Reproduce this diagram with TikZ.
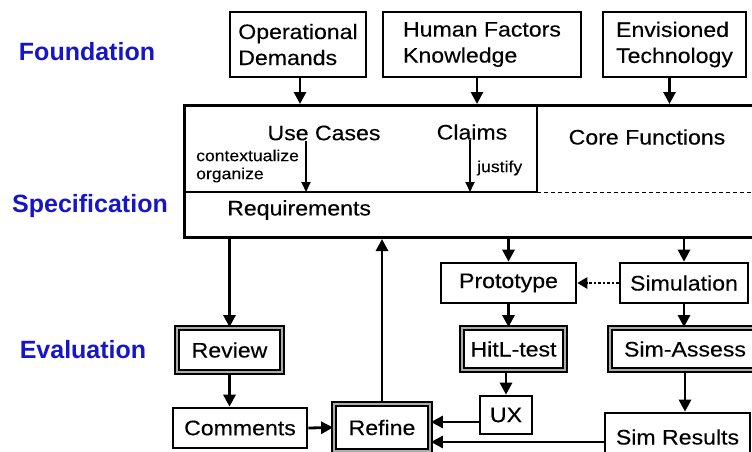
\documentclass[tikz,border=0pt]{standalone}
\usepackage{fontspec}
\setmainfont{Liberation Sans}[FakeStretch=1.1, FakeBold=0.25]
\newfontfamily\phasefont{Liberation Sans Bold}
\usetikzlibrary{arrows.meta,calc}
\definecolor{phaseblue}{HTML}{1616C8}
\begin{document}
\begin{tikzpicture}[x=1pt,y=-1pt,
  box/.style={draw, line width=2.6pt, inner sep=0pt, align=left,
    font=\fontsize{21}{26}\selectfont},
  dblbox/.style={box, line width=1.8pt, double=gray!65, double distance=1.8pt},
  txt/.style={inner sep=0pt, font=\fontsize{21}{26}\selectfont},
  small/.style={inner sep=0pt, align=left, font=\fontsize{16}{18}\selectfont},
  phase/.style={inner sep=0pt, text=phaseblue, font=\phasefont\fontsize{25}{29}\selectfont},
  arr/.style={line width=2.8pt, -{Triangle[length=12pt,width=12pt]}},
  arrsm/.style={line width=2pt, -{Triangle[length=10pt,width=9pt]}}]
\useasboundingbox (0,0) rectangle (752,452);
\clip (0,0) rectangle (752,452);

% phase labels
\node[phase] (foundation) at (87,52) {Foundation};
\node[phase] (specification) at (90,206) {Specification};
\node[phase] (evaluation) at (83,350) {Evaluation};

% foundation inputs
\node[box, minimum width=136pt, minimum height=65pt] (opdem) at (298,44.5) {Operational\\Demands};
\node[box, minimum width=198pt, minimum height=65pt] (hfk) at (482,44.5) {Human Factors\\Knowledge};
\node[box, minimum width=143pt, minimum height=65pt] (envt) at (674.5,44.5) {Envisioned\\Technology};

% specification block
\node[draw, line width=3pt, inner sep=0pt, minimum width=580pt, minimum height=132pt,
  anchor=north west] (spec) at (183,104) {};
\coordinate (reqL) at (183,192);
\coordinate (reqM) at (537,192);
\coordinate (reqR) at (765,192);
\coordinate (divtop) at (537,104);
\draw[line width=2.6pt] (reqL) -- (reqM);
\draw[line width=1.6pt] (divtop) -- (reqM);
\draw[line width=1pt, dash pattern=on 4pt off 3pt] (reqM) -- (reqR);

\node[txt] (usecases) at (324,133) {Use Cases};
\node[txt] (claims) at (472,132) {Claims};
\node[txt] (corefn) at (647,137) {Core Functions};
\node[small, anchor=west] (ctx) at (196,166) {contextualize\\organize};
\node[small, anchor=west] (justify) at (477,168) {justify};
\node[txt, anchor=west] (req) at (227,210) {Requirements};

\draw[arrsm] ([xshift=-18pt]usecases.south) -- ([xshift=-18pt]usecases.south |- reqL);
\draw[arrsm] ([xshift=-2pt]claims.south) -- ([xshift=-2pt]claims.south |- reqL);

\draw[arr] ([xshift=2pt]opdem.south) -- ([xshift=2pt]opdem.south |- spec.north);
\draw[arr] ([xshift=-5pt]hfk.south) -- ([xshift=-5pt]hfk.south |- spec.north);
\draw[arr] ([xshift=-5pt]envt.south) -- ([xshift=-5pt]envt.south |- spec.north);

% evaluation stage
\node[box, minimum width=135pt, minimum height=40pt] (proto) at (508.5,283) {Prototype};
\node[box, minimum width=128pt, minimum height=40pt] (sim) at (684,283) {Simulation};
\node[dblbox, minimum width=103pt, minimum height=42pt] (hitl) at (513.5,349) {HitL-test};
\node[dblbox, minimum width=150pt, minimum height=42pt] (simassess) at (685,349) {Sim-Assess};
\node[dblbox, minimum width=105pt, minimum height=44pt] (review) at (229.5,350) {Review};
\node[box, minimum width=134pt, minimum height=40pt] (comments) at (240,428) {Comments};
\node[dblbox, minimum width=96pt, minimum height=47pt] (refine) at (382,427.5) {Refine};
\node[box, minimum width=52pt, minimum height=38pt] (ux) at (506,415) {UX};
\node[box, minimum width=145pt, minimum height=48pt] (simres) at (677.5,437) {Sim Results};

\draw[arr] (spec.south -| review) -- (review.north);
\draw[arr] (review.south) -- (review.south |- comments.north);
\draw[arr] (comments.east) -- (refine.west);
\draw[arr] (refine.north) -- (refine.north |- spec.south);
\draw[arr] (spec.south -| proto) -- (proto.north);
\draw[arr] (spec.south -| sim) -- (sim.north);
\draw[line width=2.8pt, dash pattern=on 2.5pt off 2pt, -{Triangle[length=10pt,width=11pt]}] (sim.west) -- (proto.east);
\draw[arr] (proto.south) -- (proto.south |- hitl.north);
\draw[arr] (sim.south) -- (sim.south |- simassess.north);
\draw[arr] (ux.north |- hitl.south) -- (ux.north);
\draw[arr] (simassess.south) -- (simassess.south |- simres.north);
\draw[arr] ([yshift=-7pt]ux.west) -- ([yshift=-7pt]ux.west -| refine.east);
\draw[arr] ([yshift=-5pt]simres.west) -- ([yshift=-5pt]simres.west -| refine.east);
\end{tikzpicture}
\end{document}
